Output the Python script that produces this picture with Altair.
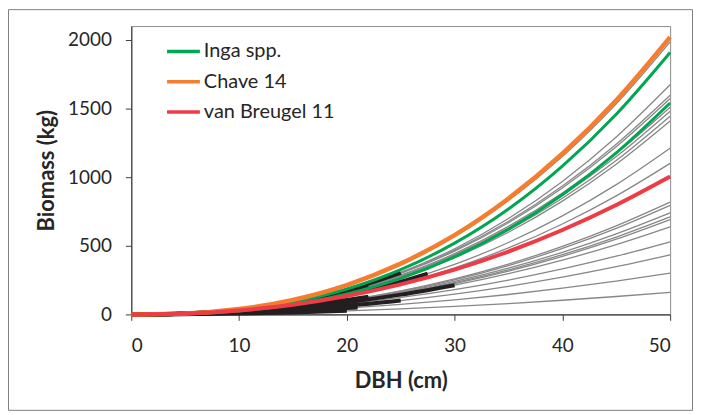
import altair as alt
import pandas as pd

# DBH positions (cm) at which the curves were read
DBH = [0, 5, 10, 15, 20, 25, 30, 35, 40, 45, 50]

# Grey allometric curves: biomass (kg) read at each DBH
GREY = [
    [0, 7.1, 38.7, 104.0, 210.0, 363.3, 567.3, 829.3, 1149.3, 1533.4, 1985],
    [0, 6.0, 32.6, 87.7, 177.0, 306.2, 478.1, 699.0, 968.7, 1292.4, 1673],
    [0, 6.4, 33.7, 88.7, 176.7, 302.4, 467.6, 678.0, 934.8, 1239.6, 1596],
    [0, 6.3, 33.2, 87.4, 174.0, 297.9, 460.6, 667.8, 920.7, 1221.0, 1572],
    [0, 6.0, 31.8, 83.9, 167.0, 286.0, 442.1, 641.0, 883.8, 1172.0, 1509],
    [0, 5.9, 31.2, 82.3, 163.8, 280.5, 433.6, 628.7, 866.8, 1149.5, 1480],
    [0, 5.7, 30.5, 80.3, 159.9, 273.6, 423.1, 613.4, 845.8, 1121.6, 1444],
    [0, 5.6, 29.7, 78.3, 155.9, 266.8, 412.5, 598.1, 824.7, 1093.6, 1408],
    [0, 5.4, 27.7, 71.7, 140.6, 237.7, 364.5, 523.6, 717.2, 945.5, 1211],
    [0, 5.5, 27.2, 69.0, 133.7, 223.4, 339.8, 483.9, 658.6, 863.3, 1100],
    [0, 4.6, 22.0, 54.6, 104.2, 172.1, 259.3, 366.5, 495.2, 645.4, 818],
    [0, 4.5, 21.4, 53.0, 101.2, 167.1, 251.7, 355.7, 480.7, 626.5, 794],
    [0, 4.7, 21.4, 52.2, 98.5, 160.8, 240.2, 337.1, 452.3, 586.2, 739],
    [0, 4.5, 20.6, 50.1, 94.6, 154.5, 230.8, 323.8, 434.6, 563.2, 710],
    [0, 4.4, 20.0, 48.8, 92.1, 150.4, 224.6, 315.2, 423.0, 548.1, 691],
    [0, 4.5, 20.1, 48.0, 89.0, 143.9, 212.8, 296.4, 395.0, 508.7, 638],
    [0, 4.2, 18.0, 42.2, 77.1, 123.4, 180.9, 250.2, 331.3, 424.0, 529],
    [0, 3.4, 14.7, 34.6, 63.1, 101.0, 148.0, 204.8, 271.1, 347.1, 433],
    [0, 2.7, 11.1, 25.6, 46.0, 72.8, 105.7, 144.9, 190.6, 242.5, 301],
    [0, 1.6, 6.4, 14.5, 25.8, 40.3, 58.0, 78.9, 103.0, 130.4, 161],
]

# Black segments (range of observed DBH) : DBH list and biomass list
BLACK_DBH = [
    [0, 5, 10, 15, 20, 25],
    [0, 5, 10, 15, 20, 25, 27.5],
    [0, 5, 10, 15, 20, 25, 30],
    [0, 5, 10, 15, 20, 25],
    [0, 5, 10, 15, 20, 21],
    [0, 5, 10, 15, 20, 22],
    [0, 5, 10, 15, 20, 22],
    [0, 5, 10, 15, 20],
    [0, 5, 10, 15, 20],
    [0, 5, 10, 15, 20],
    [0, 5, 10, 15, 20, 22],
    [0, 5, 10, 15, 20],
    [0, 5, 10, 15, 20, 22],
    [0, 5, 10, 15, 20],
]
BLACK_VAL = [
    [0, 6.4, 33.7, 88.7, 176.7, 302.4],
    [0, 5.4, 27.7, 71.7, 140.6, 237.7, 297],
    [0, 4.5, 20.1, 48.0, 89.0, 143.9, 212.8],
    [0, 3.4, 14.7, 34.6, 63.1, 101.0],
    [0, 2.7, 11.1, 25.6, 46.0, 50.9],
    [0, 5.9, 31.2, 82.3, 163.8, 206],
    [0, 4.6, 22.0, 54.6, 104.2, 129],
    [0, 4.7, 21.4, 52.2, 98.5],
    [0, 1.6, 6.4, 14.5, 25.8],
    [0, 5.5, 27.2, 69.0, 133.7],
    [0, 6.0, 32.6, 87.7, 177.0, 227],
    [0, 4.5, 21.4, 53.0, 101.2],
    [0, 4.5, 20.6, 50.1, 94.6, 118],
    [0, 4.2, 18.0, 42.2, 77.1],
]

INGA = [
    [0, 5.4, 31.5, 88.7, 184.9, 325.9, 519, 768, 1080, 1458, 1908],
    [0, 4.4, 25.4, 71.6, 149.2, 263.0, 418.9, 620.2, 871.9, 1177, 1540],
]
CHAVE = [0, 7, 39, 106, 214, 370, 577, 844, 1170, 1560, 2020]
VANBREUGEL = [0, 6.3, 29.1, 70.9, 133.8, 218.5, 326.3, 457.9, 614.5, 796.4, 1004]

SERIES = ["Inga spp.", "Chave 14", "van Breugel 11"]
COLORS = ["#00a651", "#f47d30", "#ee3b45"]

X_TICKS = [0, 10, 20, 30, 40, 50]
Y_TICKS = [0, 500, 1000, 1500, 2000]

FONT = "Lato"
TXT = "#262626"

# ---- build tables
grey_rows = []
for i, vals in enumerate(GREY):
    for d, v in zip(DBH, vals):
        grey_rows.append({"dbh": d, "bio": v, "id": f"g{i}"})
grey_df = pd.DataFrame(grey_rows)

black_rows = []
for i, (ds, vs) in enumerate(zip(BLACK_DBH, BLACK_VAL)):
    for d, v in zip(ds, vs):
        black_rows.append({"dbh": d, "bio": v, "id": f"b{i}"})
black_df = pd.DataFrame(black_rows)

def series_df(name, curves):
    rows = []
    for i, vals in enumerate(curves):
        for d, v in zip(DBH, vals):
            rows.append({"dbh": d, "bio": v, "id": f"{name}{i}", "series": name})
    return pd.DataFrame(rows)

inga_df = series_df(SERIES[0], INGA)
chave_df = series_df(SERIES[1], [CHAVE])
vb_df = series_df(SERIES[2], [VANBREUGEL])

W, H = 542, 290
PAD = {"left": 124, "top": 17, "right": 24, "bottom": 98}

x_enc = alt.X(
    "dbh:Q",
    scale=alt.Scale(domain=[0, 50], nice=False),
    axis=alt.Axis(values=X_TICKS, title="DBH (cm)", grid=False, labelPadding=16,
                  titlePadding=16),
)
y_enc = alt.Y(
    "bio:Q",
    scale=alt.Scale(domain=[0, 2100], nice=False),
    axis=alt.Axis(values=Y_TICKS, title="Biomass (kg)", grid=False, labelPadding=14,
                  titlePadding=9, format="d"),
)
color_enc = alt.Color(
    "series:N",
    scale=alt.Scale(domain=SERIES, range=COLORS),
    sort=SERIES,
    legend=alt.Legend(
        title=None, orient="none", legendX=34, legendY=7, symbolType="stroke",
        symbolSize=1089, symbolStrokeWidth=3.5, labelFontSize=20, labelFont=FONT,
        labelColor=TXT, rowPadding=1.5, labelOffset=2, padding=0,
    ),
)

grey = alt.Chart(grey_df).mark_line(color="#878787", strokeWidth=1.3, interpolate="monotone").encode(
    x=x_enc, y=y_enc, detail="id:N")
black = alt.Chart(black_df).mark_line(color="#231f20", strokeWidth=4, interpolate="monotone").encode(
    x=x_enc, y=y_enc, detail="id:N")
inga = alt.Chart(inga_df).mark_line(strokeWidth=3, interpolate="monotone").encode(
    x=x_enc, y=y_enc, color=color_enc, detail="id:N")
chave = alt.Chart(chave_df).mark_line(strokeWidth=4.5, interpolate="monotone").encode(
    x=x_enc, y=y_enc, color=color_enc, detail="id:N")
vb = alt.Chart(vb_df).mark_line(strokeWidth=4, interpolate="monotone").encode(
    x=x_enc, y=y_enc, color=color_enc, detail="id:N")

border = alt.Chart(pd.DataFrame({"k": [0]})).mark_rect(
    fillOpacity=0, stroke="#7f7f7f", strokeWidth=1
).encode(
    x=alt.value(-123.5), x2=alt.value(W + PAD["right"] - 1.5),
    y=alt.value(-16.5), y2=alt.value(H + PAD["bottom"] - 1.5),
)

chart = alt.layer(grey, black, inga, chave, vb, border).properties(
    width=W, height=H, padding=PAD,
    autosize=alt.AutoSizeParams(type="none"),
).configure_view(
    stroke="#8c8c8c", strokeWidth=1
).configure_axis(
    labelFont=FONT, labelFontSize=19, labelColor=TXT,
    titleFont=FONT, titleFontSize=22, titleFontWeight="bold", titleColor=TXT,
    tickSize=6, tickColor="#404040", domainColor="#404040", domainWidth=1.2,
)

chart.save("out.html", embed_options={"renderer": "svg", "actions": False})
